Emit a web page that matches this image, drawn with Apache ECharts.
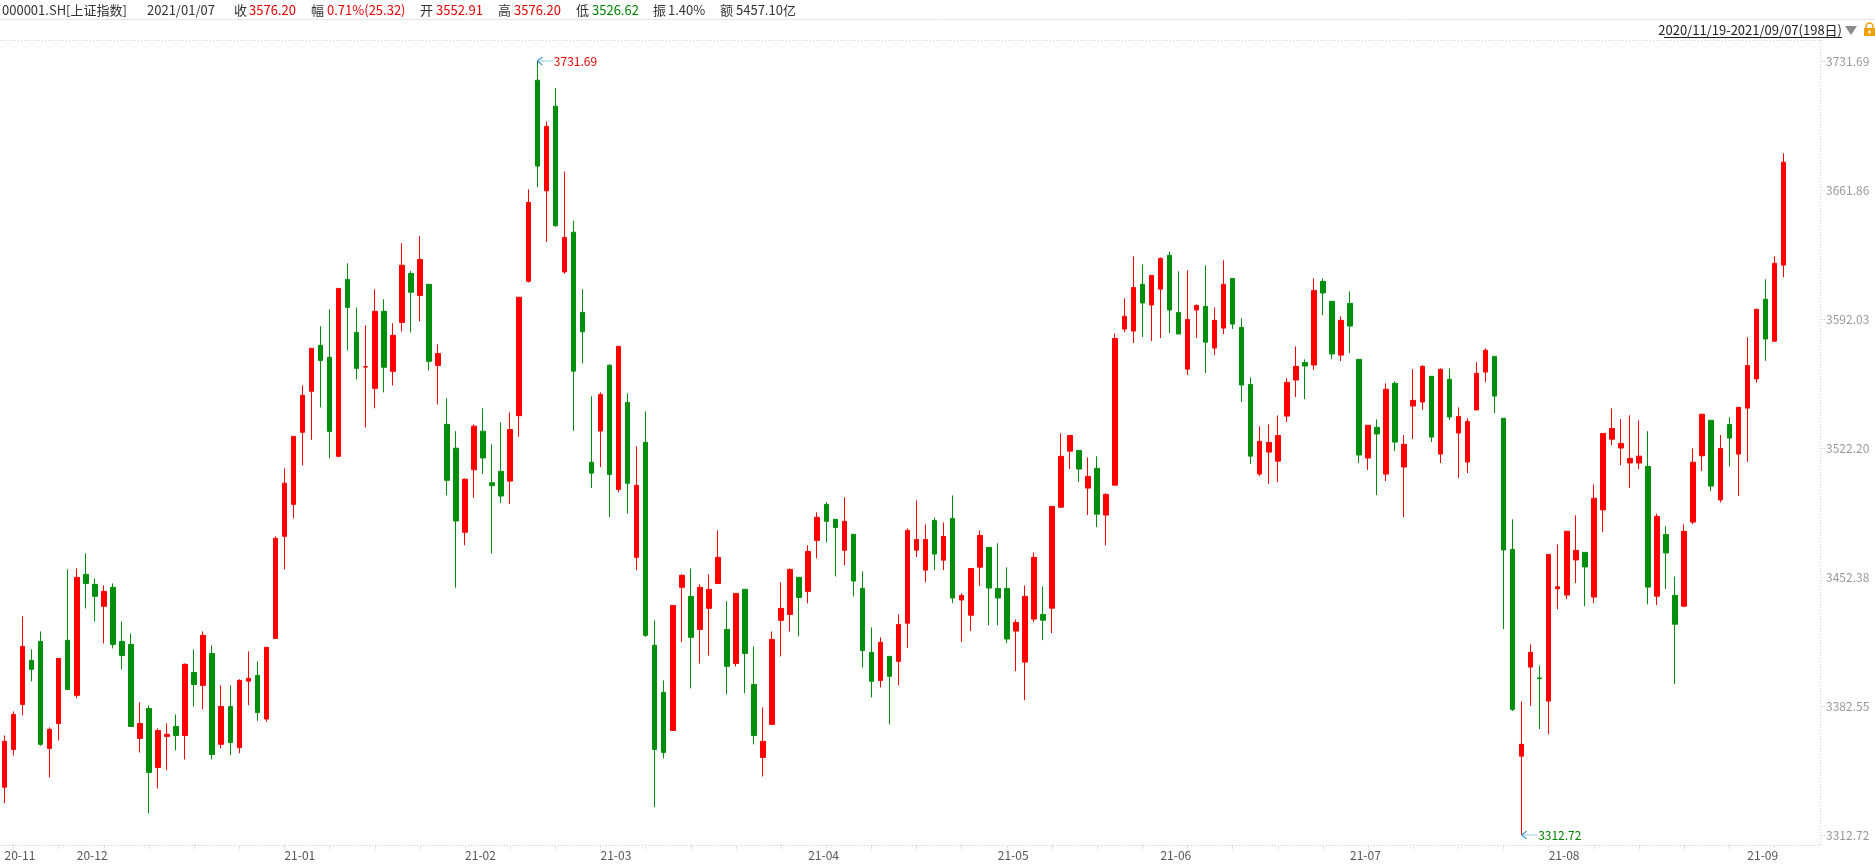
<!DOCTYPE html>
<html>
<head>
<meta charset="utf-8">
<title>000001.SH 上证指数</title>
<script src="https://cdn.jsdelivr.net/npm/echarts@6/dist/echarts.min.js"></script>
<style>
html, body { margin: 0; padding: 0; background: #fff; }
#main { width: 1875px; height: 868px; }
</style>
</head>
<body>
<div id="main"></div>
<script>
// trading days 2020/11/19 - 2021/09/07 (198)
var dates = [
  '2020/11/19','2020/11/20','2020/11/23','2020/11/24','2020/11/25','2020/11/26','2020/11/27','2020/11/30',
  '2020/12/01','2020/12/02','2020/12/03','2020/12/04','2020/12/07','2020/12/08','2020/12/09','2020/12/10','2020/12/11',
  '2020/12/14','2020/12/15','2020/12/16','2020/12/17','2020/12/18','2020/12/21','2020/12/22','2020/12/23','2020/12/24',
  '2020/12/25','2020/12/28','2020/12/29','2020/12/30','2020/12/31',
  '2021/01/04','2021/01/05','2021/01/06','2021/01/07','2021/01/08','2021/01/11','2021/01/12','2021/01/13','2021/01/14',
  '2021/01/15','2021/01/18','2021/01/19','2021/01/20','2021/01/21','2021/01/22','2021/01/25','2021/01/26','2021/01/27',
  '2021/01/28','2021/01/29',
  '2021/02/01','2021/02/02','2021/02/03','2021/02/04','2021/02/05','2021/02/08','2021/02/09','2021/02/10','2021/02/18',
  '2021/02/19','2021/02/22','2021/02/23','2021/02/24','2021/02/25','2021/02/26',
  '2021/03/01','2021/03/02','2021/03/03','2021/03/04','2021/03/05','2021/03/08','2021/03/09','2021/03/10','2021/03/11',
  '2021/03/12','2021/03/15','2021/03/16','2021/03/17','2021/03/18','2021/03/19','2021/03/22','2021/03/23','2021/03/24',
  '2021/03/25','2021/03/26','2021/03/29','2021/03/30','2021/03/31',
  '2021/04/01','2021/04/02','2021/04/06','2021/04/07','2021/04/08','2021/04/09','2021/04/12','2021/04/13','2021/04/14',
  '2021/04/15','2021/04/16','2021/04/19','2021/04/20','2021/04/21','2021/04/22','2021/04/23','2021/04/26','2021/04/27',
  '2021/04/28','2021/04/29','2021/04/30',
  '2021/05/06','2021/05/07','2021/05/10','2021/05/11','2021/05/12','2021/05/13','2021/05/14','2021/05/17','2021/05/18',
  '2021/05/19','2021/05/20','2021/05/21','2021/05/24','2021/05/25','2021/05/26','2021/05/27','2021/05/28','2021/05/31',
  '2021/06/01','2021/06/02','2021/06/03','2021/06/04','2021/06/07','2021/06/08','2021/06/09','2021/06/10','2021/06/11',
  '2021/06/15','2021/06/16','2021/06/17','2021/06/18','2021/06/21','2021/06/22','2021/06/23','2021/06/24','2021/06/25',
  '2021/06/28','2021/06/29','2021/06/30',
  '2021/07/01','2021/07/02','2021/07/05','2021/07/06','2021/07/07','2021/07/08','2021/07/09','2021/07/12','2021/07/13',
  '2021/07/14','2021/07/15','2021/07/16','2021/07/19','2021/07/20','2021/07/21','2021/07/22','2021/07/23','2021/07/26',
  '2021/07/27','2021/07/28','2021/07/29','2021/07/30',
  '2021/08/02','2021/08/03','2021/08/04','2021/08/05','2021/08/06','2021/08/09','2021/08/10','2021/08/11','2021/08/12',
  '2021/08/13','2021/08/16','2021/08/17','2021/08/18','2021/08/19','2021/08/20','2021/08/23','2021/08/24','2021/08/25',
  '2021/08/26','2021/08/27','2021/08/30','2021/08/31',
  '2021/09/01','2021/09/02','2021/09/03','2021/09/06','2021/09/07'
];

var opens = [
  3338.6,3359.0,3383.4,3407.2,3417.5,3359.6,3373.1,3418.1,
  3388.3,3453.8,3448.4,3436.5,3446.8,3417.5,3415.9,3365.0,3381.2,3349.3,3366.1,3371.5,3366.6,3400.7,3393.7,3411.0,3361.8,3382.3,3360.0,3396.0,3399.1,3375.5,3419.1,
  3474.4,3491.7,3530.7,3552.91,3577.8,3571.3,3517.7,3613.5,3584.8,3566.0,3554.5,3596.2,3563.7,3590.2,3616.7,3604.8,3610.8,3566.9,3535.0,3522.1,
  3476.6,3510.4,3531.3,3503.4,3509.6,3504.3,3539.7,3612.4,3721.3,3661.4,3707.2,3617.5,3639.0,3595.6,3514.5,
  3531.4,3567.0,3499.8,3546.9,3463.0,3525.3,3415.4,3389.9,3369.3,3446.8,3441.9,3424.0,3435.4,3448.9,3424.0,3405.6,3445.7,3394.2,3354.7,3372.6,3428.9,3432.1,3452.2,
  3444.6,3472.2,3491.7,3483.6,3466.8,3475.5,3446.2,3411.6,3396.4,3409.4,3406.7,3427.4,3466.9,3456.1,3483.0,3461.5,3484.1,3439.9,3431.7,3457.7,3468.4,
  3446.2,3446.2,3423.1,3406.3,3429.6,3432.1,3435.5,3490.2,3520.5,3520.9,3500.5,3511.2,3485.9,3502.1,3586.6,3585.5,3610.8,3599.6,
  3608.2,3626.5,3595.6,3564.9,3596.9,3598.9,3576.3,3587.1,3614.0,3587.5,3556.6,3508.1,3520.0,3515.1,3539.5,3559.0,3568.5,3567.1,3612.4,3601.6,3572.5,
  3600.5,3570.2,3516.8,3533.4,3508.1,3557.2,3511.9,3544.9,3547.1,3561.0,3518.9,3559.4,3530.3,3514.6,3542.8,3563.3,3571.8,3538.3,3467.3,3355.4,3403.6,3397.7,
  3385.2,3446.0,3442.6,3461.6,3465.7,3441.5,3488.7,3527.0,3522.2,3514.1,3514.1,3512.2,3442.0,3475.4,3442.4,3436.6,3482.1,3518.0,3537.2,3494.1,3534.9,3518.9,
  3543.8,3559.6,3602.7,3580.0,3621.2
];
var highs = [
  3366.6,3379.6,3431.1,3413.2,3422.9,3371.0,3408.3,3456.5,
  3457.0,3465.2,3451.6,3447.8,3448.9,3428.3,3421.8,3384.5,3382.9,3370.4,3373.1,3378.0,3405.6,3413.2,3422.9,3415.4,3393.7,3393.7,3397.0,3412.1,3406.7,3414.5,3474.4,
  3511.2,3528.5,3556.1,3576.20,3588.1,3597.3,3608.6,3622.2,3598.3,3588.6,3608.1,3602.7,3589.7,3633.0,3618.0,3637.0,3611.0,3578.3,3549.1,3531.3,
  3505.7,3535.0,3543.7,3524.2,3536.1,3541.4,3603.8,3662.2,3731.69,3699.0,3717.0,3671.9,3645.2,3608.1,3550.2,
  3552.3,3567.5,3577.5,3551.8,3523.1,3542.0,3428.9,3396.4,3437.0,3453.8,3457.0,3448.4,3453.8,3477.6,3439.2,3443.5,3445.7,3414.8,3381.8,3422.9,3449.5,3457.0,3452.2,
  3469.5,3487.4,3492.8,3483.6,3495.5,3475.5,3455.4,3425.1,3419.7,3409.4,3432.1,3478.7,3493.8,3480.8,3484.6,3481.9,3496.5,3443.5,3457.0,3477.6,3468.4,
  3470.6,3457.6,3429.4,3447.8,3465.7,3447.3,3490.6,3530.1,3529.0,3520.9,3517.1,3517.7,3497.6,3584.2,3603.2,3625.9,3621.6,3615.6,
  3625.4,3628.6,3617.8,3618.4,3599.9,3621.1,3598.3,3623.8,3614.0,3592.4,3560.4,3533.9,3535.0,3539.8,3559.9,3577.2,3570.2,3614.0,3614.0,3601.6,3593.4,
  3607.0,3570.2,3534.5,3537.7,3557.2,3558.3,3529.1,3564.8,3567.0,3561.0,3565.3,3565.3,3544.2,3538.3,3568.6,3576.2,3571.8,3538.3,3483.6,3385.0,3415.9,3404.5,
  3464.6,3470.0,3477.1,3485.7,3465.7,3502.5,3530.1,3543.6,3537.8,3539.9,3537.2,3531.3,3486.7,3479.8,3452.6,3480.8,3522.0,3540.5,3537.2,3529.3,3538.8,3544.2,
  3582.1,3597.3,3613.5,3626.0,3681.7
];
var lows = [
  3330.0,3355.8,3377.5,3395.9,3361.0,3343.9,3363.9,3391.5,
  3386.7,3435.4,3428.3,3416.4,3413.7,3402.4,3371.5,3357.4,3324.4,3337.9,3347.7,3358.5,3353.6,3382.3,3380.7,3353.6,3359.6,3356.0,3357.0,3383.0,3374.5,3374.0,3419.1,
  3456.5,3484.1,3512.8,3526.62,3544.2,3516.6,3517.2,3575.1,3559.4,3533.4,3543.7,3552.3,3556.1,3585.3,3584.8,3590.8,3564.2,3545.8,3496.6,3446.6,
  3469.6,3495.2,3508.0,3465.1,3492.4,3491.9,3528.3,3611.8,3663.5,3633.7,3642.0,3616.5,3531.5,3568.1,3500.6,
  3511.9,3484.8,3498.2,3486.8,3456.0,3420.0,3327.8,3354.2,3369.0,3417.0,3392.1,3405.6,3409.9,3448.9,3388.8,3404.0,3389.4,3361.8,3344.4,3372.6,3409.4,3422.9,3420.2,
  3438.1,3462.5,3471.1,3452.7,3458.7,3441.9,3403.4,3387.2,3392.6,3372.6,3393.7,3413.9,3463.2,3449.6,3456.1,3456.1,3438.2,3417.1,3423.1,3447.5,3426.3,
  3426.3,3416.6,3401.4,3385.7,3428.0,3418.2,3422.0,3489.7,3510.8,3503.8,3485.9,3479.4,3469.6,3502.1,3585.0,3579.0,3582.3,3580.1,
  3581.7,3584.4,3583.9,3561.7,3581.7,3562.8,3572.5,3583.9,3586.6,3547.1,3513.5,3507.0,3502.7,3503.7,3536.2,3549.8,3548.7,3564.4,3594.2,3570.3,3569.3,
  3573.6,3514.1,3510.3,3496.7,3504.3,3520.6,3484.8,3527.1,3542.8,3525.4,3514.1,3537.4,3506.0,3508.7,3542.8,3557.9,3541.1,3424.2,3379.8,3312.72,3382.5,3370.1,
  3367.3,3435.0,3440.4,3449.1,3436.6,3438.2,3476.7,3523.7,3512.9,3500.6,3510.8,3437.6,3437.2,3445.9,3394.4,3436.1,3481.0,3509.7,3498.9,3492.7,3512.2,3496.2,
  3514.7,3557.5,3569.4,3580.0,3614.7
];
var closes = [
  3363.4,3378.0,3414.8,3402.4,3361.8,3369.9,3408.3,3391.5,
  3452.2,3448.9,3441.9,3444.6,3415.9,3409.9,3371.5,3373.1,3346.6,3369.3,3367.2,3366.6,3405.1,3394.2,3420.8,3356.3,3382.3,3362.8,3396.4,3397.5,3379.0,3414.3,3473.3,
  3503.1,3528.5,3550.7,3576.20,3569.6,3531.2,3608.6,3598.3,3565.3,3566.2,3596.2,3565.9,3583.2,3621.1,3606.5,3624.3,3569.1,3573.4,3504.7,3482.7,
  3505.3,3534.0,3516.8,3501.8,3496.2,3532.2,3603.8,3655.1,3674.8,3696.3,3642.5,3636.2,3563.8,3585.1,3508.6,
  3551.2,3507.9,3577.2,3503.1,3502.0,3420.8,3359.0,3357.4,3437.0,3453.3,3419.7,3446.8,3445.7,3463.0,3404.0,3443.5,3411.0,3366.6,3363.4,3418.6,3435.4,3456.5,3441.3,
  3466.2,3484.7,3482.5,3479.2,3482.5,3450.2,3412.6,3395.9,3417.0,3398.6,3426.7,3477.6,3472.7,3472.7,3464.8,3474.3,3441.0,3442.4,3457.0,3474.9,3446.4,
  3441.0,3418.8,3427.8,3441.9,3463.0,3429.0,3490.6,3517.7,3529.0,3510.8,3506.8,3486.4,3497.1,3581.5,3593.5,3609.1,3600.7,3615.6,
  3624.8,3596.9,3583.9,3591.8,3599.4,3579.5,3591.3,3610.8,3589.3,3556.3,3517.8,3525.8,3525.2,3529.0,3557.7,3566.4,3566.6,3607.5,3606.1,3573.1,3591.3,
  3588.2,3518.4,3534.5,3529.8,3554.0,3525.4,3524.2,3548.0,3566.4,3528.1,3564.8,3539.0,3539.3,3536.6,3562.6,3575.1,3550.3,3467.0,3380.7,3361.8,3411.6,3397.4,
  3464.6,3447.1,3477.1,3466.8,3457.8,3495.0,3530.1,3532.8,3524.7,3516.6,3517.8,3446.9,3485.2,3465.4,3426.8,3477.1,3514.5,3540.5,3501.6,3522.0,3527.6,3544.2,
  3566.9,3597.3,3581.2,3622.2,3676.9
];

// price axis ticks
var yTicks = [3312.72, 3382.55, 3452.38, 3522.20, 3592.03, 3661.86, 3731.69];

var UP = '#ff0000', DOWN = '#008f0c';
var FONT = '"Noto Sans CJK SC", "Microsoft YaHei", sans-serif';

var kdata = dates.map(function (d, i) {
  return [opens[i], closes[i], lows[i], highs[i]];
});

var maxIdx = 0, minIdx = 0;
for (var i = 1; i < dates.length; i++) {
  if (highs[i] > highs[maxIdx]) maxIdx = i;
  if (lows[i] < lows[minIdx]) minIdx = i;
}

function monthStart(i) {
  return i === 0 || dates[i].slice(0, 7) !== dates[i - 1].slice(0, 7);
}

function marker(idx, val, color) {
  return {
    coord: [dates[idx], val],
    value: val.toFixed(2),
    symbol: 'path://M0,4 L5,0 M0,4 L5,8 M0,4 L16,4',
    symbolSize: [16, 8],
    symbolOffset: [8, 0],
    itemStyle: { color: 'none', borderColor: '#3d93c4', borderWidth: 1 },
    label: {
      show: true, position: 'right', distance: -3,
      color: color, fontSize: 12, fontFamily: FONT,
      formatter: function (p) { return p.value; }
    }
  };
}

// header line: [text, color, x]
var header = [
  ['000001.SH[上证指数]', '#333', 2],
  ['2021/01/07', '#333', 147],
  ['收', '#333', 234], ['3576.20', '#e60000', 249],
  ['幅', '#333', 311], ['0.71%(25.32)', '#e60000', 327],
  ['开', '#333', 420], ['3552.91', '#e60000', 436],
  ['高', '#333', 498], ['3576.20', '#e60000', 514],
  ['低', '#333', 576], ['3526.62', '#008000', 592],
  ['振', '#333', 653], ['1.40%', '#333', 668],
  ['额', '#333', 720], ['5457.10亿', '#333', 736]
];

var graphics = header.map(function (h) {
  return {
    type: 'text', x: h[2], y: 10, silent: true,
    style: { text: h[0], fill: h[1], font: '13px ' + FONT, verticalAlign: 'middle' }
  };
});

var dotted = { stroke: '#cfcfcf', lineWidth: 1, lineDash: [1, 2] };
graphics.push(
  { type: 'line', silent: true, shape: { x1: 0, y1: 19.5, x2: 1875, y2: 19.5 }, style: { stroke: '#e6e6e6', lineWidth: 1 } },
  { type: 'line', silent: true, shape: { x1: 0, y1: 40.5, x2: 1820, y2: 40.5 }, style: dotted },
  { type: 'line', silent: true, shape: { x1: 1820.5, y1: 40, x2: 1820.5, y2: 845 }, style: dotted },
  { type: 'line', silent: true, shape: { x1: 0, y1: 845.5, x2: 1820, y2: 845.5 }, style: dotted },
  // range selector
  { type: 'text', x: 1842, y: 30, silent: true,
    style: { text: '2020/11/19-2021/09/07(198日)', fill: '#222', font: '13px ' + FONT, align: 'right', verticalAlign: 'middle' } },
  { type: 'line', silent: true, shape: { x1: 1664, y1: 37.5, x2: 1842, y2: 37.5 }, style: { stroke: '#222', lineWidth: 1 } },
  { type: 'polygon', silent: true, shape: { points: [[1845, 26], [1857, 26], [1851, 35]] }, style: { fill: '#8c8c8c' } },
  { type: 'rect', silent: true, shape: { x: 1866, y: 23, width: 7, height: 9, r: 3.5 }, style: { fill: 'none', stroke: '#f0a000', lineWidth: 1.5 } },
  { type: 'rect', silent: true, shape: { x: 1864, y: 28, width: 11, height: 8 }, style: { fill: '#f0a000' } },
  { type: 'rect', silent: true, shape: { x: 1868.5, y: 30.5, width: 2, height: 3 }, style: { fill: '#fff' } }
);

var myChart = echarts.init(document.getElementById('main'));
var option = {
  backgroundColor: '#fff',
  animation: false,
  grid: { left: 0, right: 87, top: 61, bottom: 33 },
  xAxis: {
    type: 'category',
    data: dates,
    boundaryGap: true,
    offset: 10,
    axisLine: { show: false },
    axisTick: {
      show: true, alignWithLabel: true, length: 5,
      interval: function (i) { return i % 5 === 1; },
      lineStyle: { color: '#cfcfcf', type: 'dotted' }
    },
    axisLabel: {
      interval: function (i) { return monthStart(i); },
      formatter: function (v) { return v.slice(2, 4) + '-' + v.slice(5, 7); },
      align: 'left', color: '#555', fontSize: 12, fontFamily: FONT, margin: 4
    },
    splitLine: { show: false }
  },
  yAxis: {
    type: 'value',
    position: 'right',
    offset: 32,
    min: yTicks[0],
    max: yTicks[yTicks.length - 1],
    splitLine: { show: false },
    axisLine: { show: false },
    axisTick: {
      show: true, length: 5, customValues: yTicks,
      lineStyle: { color: '#cfcfcf', type: 'dotted' }
    },
    axisLabel: {
      customValues: yTicks,
      formatter: function (v) { return v.toFixed(2); },
      color: '#999', fontSize: 12, fontFamily: FONT, margin: 6
    }
  },
  series: [{
    type: 'candlestick',
    data: kdata,
    barWidth: 5,
    itemStyle: {
      color: UP, color0: DOWN,
      borderColor: UP, borderColor0: DOWN,
      borderWidth: 1
    },
    markPoint: {
      silent: true,
      data: [
        marker(maxIdx, highs[maxIdx], '#e60000'),
        marker(minIdx, lows[minIdx], '#008000')
      ]
    }
  }],
  graphic: graphics
};
myChart.setOption(option);
</script>
</body>
</html>
